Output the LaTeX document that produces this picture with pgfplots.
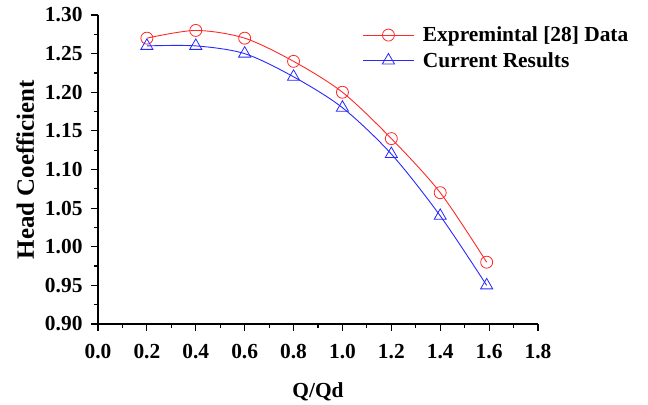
\documentclass[border=0pt]{standalone}
\usepackage{pgfplots}
\pgfplotsset{compat=1.18}
\usepackage{fontspec}
\setmainfont{Liberation Serif}

\definecolor{expred}{RGB}{255,40,40}
\definecolor{curblue}{RGB}{40,40,255}

\begin{document}
\begin{tikzpicture}
\begin{axis}[
    scale only axis,
    width=440bp, height=309bp,
    xmin=0, xmax=1.8, ymin=0.90, ymax=1.30,
    axis x line*=bottom, axis y line*=left,
    axis line style={line width=1.4pt},
    tick align=outside,
    major tick length=7bp, minor tick length=4bp,
    every tick/.style={line width=1.2pt, black},
    xtick={0,0.2,...,1.8}, ytick={0.90,0.95,...,1.30},
    minor x tick num=1, minor y tick num=1,
    /pgf/number format/assume math mode=true,
    xticklabel style={/pgf/number format/.cd, fixed, fixed zerofill, precision=1,
        /tikz/.cd, yshift=-10bp},
    yticklabel style={/pgf/number format/.cd, fixed, fixed zerofill, precision=2,
        /tikz/.cd, xshift=-5bp},
    tick label style={font=\fontsize{21.5}{24}\selectfont\bfseries},
    xlabel style={font=\fontsize{21.5}{24}\selectfont\bfseries, yshift=-17bp},
    ylabel style={font=\fontsize{25}{28}\selectfont\bfseries, yshift=4bp},
    xlabel={Q/Qd}, ylabel={Head Coefficient},
    legend style={at={(0.595,0.975)}, anchor=north west, draw=none, fill=none,
        font=\fontsize{21.5}{24}\selectfont\bfseries, row sep=5bp, column sep=7bp},
    legend cell align=left,
    legend image code/.code={
        \draw[#1, mark repeat=2, mark phase=2] plot coordinates {(0bp,0bp) (25bp,0bp) (50bp,0bp)};},
]
\addplot[expred, line width=0.9pt, smooth, mark=o, mark size=6bp,
    mark options={fill=white, line width=0.8pt}] coordinates {
    (0.2,1.27) (0.4,1.28) (0.6,1.27) (0.8,1.24) (1.0,1.20) (1.2,1.14) (1.4,1.07) (1.59,0.98)};
\addlegendentry{Expremintal [28] Data}
\addplot[curblue, line width=0.9pt, smooth, mark=triangle, mark size=7bp,
    mark options={fill=white, line width=0.8pt}] coordinates {
    (0.2,1.26) (0.4,1.26) (0.6,1.25) (0.8,1.22) (1.0,1.18) (1.2,1.12) (1.4,1.04) (1.59,0.95)};
\addlegendentry{Current Results}
\end{axis}
\path (current axis.south west) ++(-98bp,-78bp);
\path (current axis.north east) ++(110bp,15bp);
\end{tikzpicture}
\end{document}
